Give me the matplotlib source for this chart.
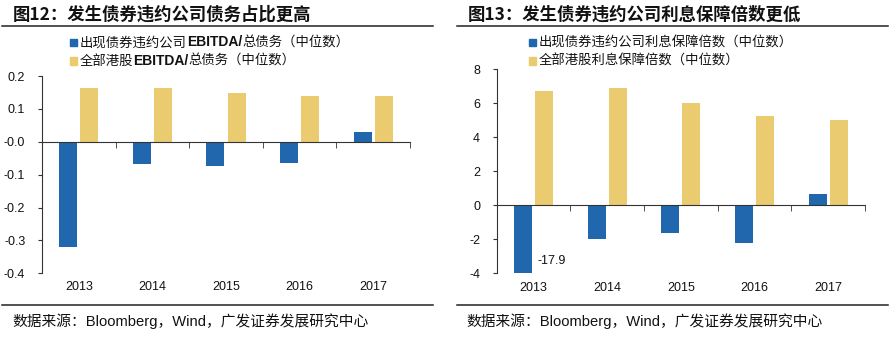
import numpy as np
import matplotlib
matplotlib.use("Agg")
import matplotlib.pyplot as plt
from matplotlib.patches import Rectangle
from matplotlib.lines import Line2D

plt.rcParams['font.family'] = ['Liberation Sans', 'Noto Sans CJK SC', 'DejaVu Sans']
CJK = ['Noto Sans CJK SC', 'DejaVu Sans']

years = ['2013', '2014', '2015', '2016', '2017']

# 图12 EBITDA/总债务
ebitda_default = [-0.32, -0.068, -0.075, -0.065, 0.029]
ebitda_all = [0.164, 0.165, 0.147, 0.138, 0.139]
# 图例分段：(文字, 是否加粗)
ebitda_labels = [[('出现债券违约公司', False), ('EBITDA/', True), ('总债务（中位数）', False)],
                 [('全部港股', False), ('EBITDA/', True), ('总债务（中位数）', False)]]

# 图13 利息保障倍数
cover_default = [-17.9, -1.98, -1.65, -2.2, 0.66]
cover_all = [6.72, 6.9, 6.02, 5.27, 5.03]
cover_labels = [[('出现债券违约公司利息保障倍数（中位数）', False)],
                [('全部港股利息保障倍数（中位数）', False)]]

BLUE = '#2067ad'
GOLD = '#ebcb70'
W, H = 893, 337

fig = plt.figure(figsize=(W / 100, H / 100), dpi=100)
renderer = fig.canvas.get_renderer()


def px(x, y):
    return x / W, 1 - y / H


def panel(rect, blue, gold, ylim, yticks, fmt):
    ax = fig.add_axes(rect)
    x = np.arange(len(years))
    ax.bar(x - 0.143, blue, 0.245, color=BLUE, zorder=2)
    ax.bar(x + 0.143, gold, 0.245, color=GOLD, zorder=2)
    ax.set_xlim(-0.5, len(years) - 0.5)
    ax.set_ylim(*ylim)
    ax.set_yticks(yticks)
    ax.set_yticklabels([fmt(v) for v in yticks])
    for s in ['top', 'right']:
        ax.spines[s].set_visible(False)
    ax.spines['bottom'].set_position(('data', 0))
    ax.spines['left'].set_color('#333333')
    ax.spines['bottom'].set_color('#333333')
    ax.set_xticks([])
    ax.set_xticks(np.arange(-0.5, len(years)), minor=True)
    ax.tick_params(axis='x', which='minor', length=4, direction='out', color='#333333', labelbottom=False)
    ax.tick_params(axis='y', length=3, direction='out', color='#333333', labelsize=9, pad=9, labelcolor='#111111')
    for i, yr in enumerate(years):
        ax.text(i, -0.07, yr, transform=ax.get_xaxis_transform(), ha='center', va='center',
                fontsize=9, color='#111111')
    return ax


ax1 = panel([42 / W, 1 - 273.3 / H, 368 / W, 197.3 / H], ebitda_default, ebitda_all,
            (-0.4, 0.2), np.arange(-0.4, 0.21, 0.1), lambda v: f'{v:.1f}')
ax2 = panel([496.7 / W, 1 - 273.3 / H, 368.3 / W, 204 / H], cover_default, cover_all,
            (-4, 8), np.arange(-4, 9, 2), lambda v: f'{v:.0f}')
ax2.text(0.05, -3.3, f'{cover_default[0]:.1f}', ha='left', va='center', fontsize=9, color='#111111')

# 标题、分隔线、图例和数据来源
titles = ['图12：发生债券违约公司债务占比更高', '图13：发生债券违约公司利息保障倍数更低']
for tx, title in zip([13, 468], titles):
    fig.text(*px(tx, 15), title, fontsize=12.5, fontweight='bold', family=CJK,
             ha='left', va='center', color='#111111')

for x0, x1 in [(2, 433), (457, 888)]:
    for yy in (25.7, 305):
        fig.add_artist(Line2D([x0 / W, x1 / W], [1 - yy / H] * 2, color='#222222', lw=1.1))


def seg_text(x, y, parts):
    # 逐段写出图例文字，英文部分加粗
    for s, bold in parts:
        if bold:
            t = fig.text(*px(x, y), s, fontsize=10, fontweight='bold', family=['Liberation Sans'],
                         ha='left', va='center', color='#111111')
        else:
            t = fig.text(*px(x, y), s, fontsize=9.6, family=CJK, ha='left', va='center',
                         color='#111111')
        x += t.get_window_extent(renderer).width


for sx, labels in [(70, ebitda_labels), (529, cover_labels)]:
    for yy, parts, c in zip([42.5, 61], labels, [BLUE, GOLD]):
        fig.add_artist(Rectangle(px(sx, yy + 3.5), 7 / W, 7 / H, color=c))
        seg_text(sx + 10, yy, parts)

for sx in (12, 466):
    fig.text(*px(sx, 320.7), '数据来源：Bloomberg，Wind，广发证券发展研究中心', fontsize=10.6,
             ha='left', va='center', color='#111111')

fig.savefig('out.png', dpi=100)
